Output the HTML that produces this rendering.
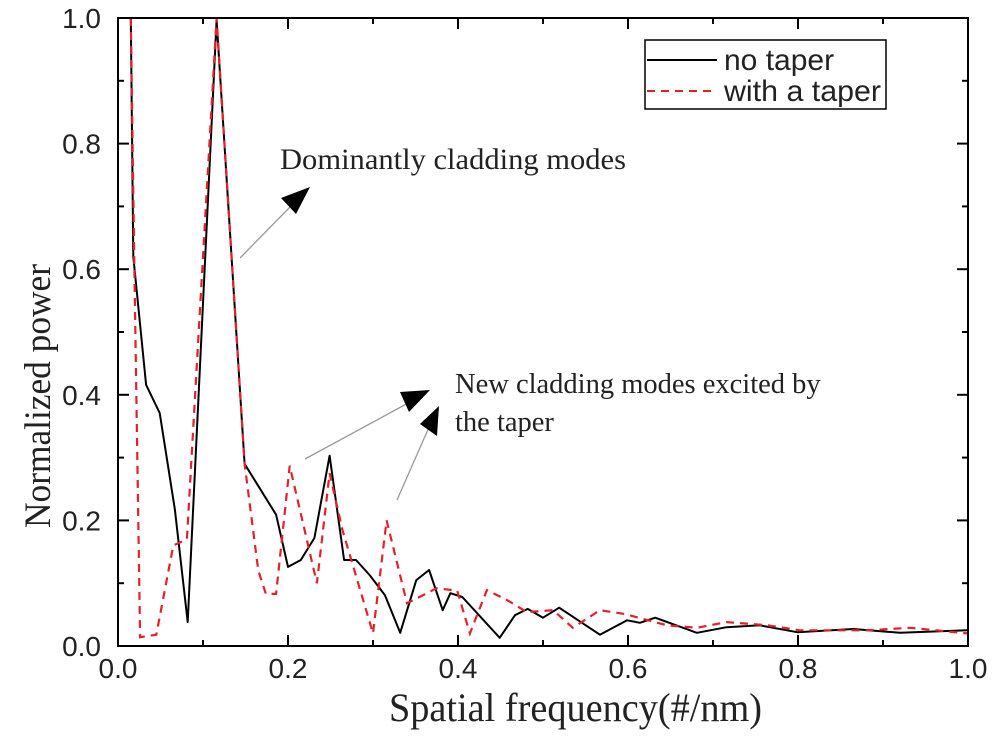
<!DOCTYPE html>
<html><head><meta charset="utf-8"><style>
body{margin:0;background:#fff}
svg{display:block}
.tk{font-family:"Liberation Sans",sans-serif;font-size:28px;fill:#222}
.lg{font-family:"Liberation Sans",sans-serif;font-size:30px;fill:#222}
.sf{font-family:"Liberation Serif",serif;fill:#222}
</style></head><body>
<svg id="chart" width="1000" height="739" xmlns="http://www.w3.org/2000/svg">
<g id="plot"></g>
<rect x="118" y="18" width="850" height="628" fill="none" stroke="#000" stroke-width="2"/>
<text class="sf" x="389" y="721" font-size="40" textLength="373" lengthAdjust="spacingAndGlyphs">Spatial frequency(#/nm)</text>
<text class="sf" transform="translate(50,528) rotate(-90)" font-size="37" textLength="264" lengthAdjust="spacingAndGlyphs">Normalized power</text>
<g>
<rect x="645" y="40" width="241" height="69" fill="#fff" stroke="#000" stroke-width="1.5"/>
<line x1="647" y1="60" x2="717" y2="60" stroke="#000" stroke-width="2"/>
<text class="lg" x="724" y="70">no taper</text>
<line x1="647" y1="91" x2="717" y2="91" stroke="#e5202a" stroke-width="2" stroke-dasharray="8,6"/>
<text class="lg" x="724" y="101" textLength="157" lengthAdjust="spacingAndGlyphs">with a taper</text>
</g>
<g>
<text class="sf" x="280" y="169" font-size="30" textLength="346" lengthAdjust="spacingAndGlyphs">Dominantly cladding modes</text>
<line x1="240" y1="258" x2="292" y2="205" stroke="#999" stroke-width="1.3"/>
<polygon points="310,187 281,198 296,214" fill="#000"/>
<text class="sf" x="455" y="393" font-size="28.5">New cladding modes excited by</text>
<text class="sf" x="455" y="431" font-size="28.5">the taper</text>
<line x1="305" y1="459" x2="410" y2="402" stroke="#999" stroke-width="1.3"/>
<polygon points="430,390 400,392 409,412" fill="#000"/>
<line x1="397" y1="500" x2="430" y2="425" stroke="#999" stroke-width="1.3"/>
<polygon points="439,406 420,424 437,436" fill="#000"/>
</g>
</svg>
<script>
const xTicks=[0,0.2,0.4,0.6,0.8,1.0];
const yTicks=[0,0.2,0.4,0.6,0.8,1.0];
const xTickLabels=["0.0","0.2","0.4","0.6","0.8","1.0"];
const yTickLabels=["0.0","0.2","0.4","0.6","0.8","1.0"];
const noTaperX=[0.015,0.018,0.033,0.049,0.067,0.082,0.116,0.149,0.186,0.2,0.215,0.231,0.249,0.266,0.28,0.296,0.314,0.332,0.351,0.366,0.382,0.391,0.405,0.449,0.467,0.482,0.5,0.519,0.567,0.599,0.614,0.632,0.681,0.716,0.755,0.799,0.865,0.92,0.999];
const noTaperY=[1.0,0.62,0.416,0.371,0.217,0.038,0.997,0.29,0.209,0.126,0.137,0.172,0.303,0.137,0.137,0.113,0.081,0.021,0.105,0.121,0.057,0.084,0.078,0.013,0.049,0.059,0.045,0.061,0.018,0.041,0.037,0.045,0.021,0.03,0.033,0.022,0.027,0.021,0.025];
const taperX=[0.015,0.019,0.026,0.045,0.065,0.081,0.116,0.149,0.165,0.174,0.186,0.202,0.234,0.249,0.264,0.3,0.316,0.34,0.375,0.399,0.414,0.434,0.458,0.481,0.512,0.535,0.567,0.596,0.646,0.681,0.716,0.764,0.802,0.881,0.932,0.999];
const taperY=[1.0,0.62,0.014,0.018,0.16,0.17,1.0,0.29,0.12,0.083,0.083,0.287,0.1,0.275,0.185,0.02,0.2,0.068,0.092,0.088,0.02,0.089,0.073,0.054,0.057,0.029,0.057,0.051,0.033,0.029,0.038,0.033,0.025,0.025,0.029,0.02];
const L=118,R=968,T=18,B=646;
const sx=v=>L+v*(R-L), sy=v=>B-v*(B-T);
const NS="http://www.w3.org/2000/svg";
const svg=document.getElementById('chart'), plot=document.getElementById('plot');
function mk(tag,attrs,parent){const e=document.createElementNS(NS,tag);for(const k in attrs)e.setAttribute(k,attrs[k]);(parent||svg).appendChild(e);return e;}
for(let i=0;i<=10;i++){const v=i/10,maj=i%2===0,len=maj?11:6;
 let t=mk('line',{x1:sx(v),x2:sx(v),y1:B,y2:B-len,stroke:'#000','stroke-width':2});
 
 
 t=mk('line',{x1:sx(v),x2:sx(v),y1:T,y2:T+len,stroke:'#000','stroke-width':2});
 
 
 t=mk('line',{x1:L,x2:L+len,y1:sy(v),y2:sy(v),stroke:'#000','stroke-width':2});
 
 
 t=mk('line',{x1:R,x2:R-len,y1:sy(v),y2:sy(v),stroke:'#000','stroke-width':2});
 
 
}
xTicks.forEach((v,i)=>{const t=mk('text',{x:sx(v),y:B+32,'text-anchor':'middle',class:'tk'});t.textContent=xTickLabels[i];
 
 });
yTicks.forEach((v,i)=>{const t=mk('text',{x:101,y:sy(v)+10,'text-anchor':'end',class:'tk'});t.textContent=yTickLabels[i];
 
 });
function pts(xs,ys){return xs.map((x,i)=>sx(x).toFixed(1)+','+sy(ys[i]).toFixed(1)).join(' ');}
const black=mk('polyline',{points:pts(noTaperX,noTaperY),fill:'none',stroke:'#000','stroke-width':2,'stroke-linejoin':'round'},plot);


const red=mk('polyline',{points:pts(taperX,taperY),fill:'none',stroke:'#e5202a','stroke-width':2.2,'stroke-dasharray':'8,6'},plot);


</script>
</body></html>
